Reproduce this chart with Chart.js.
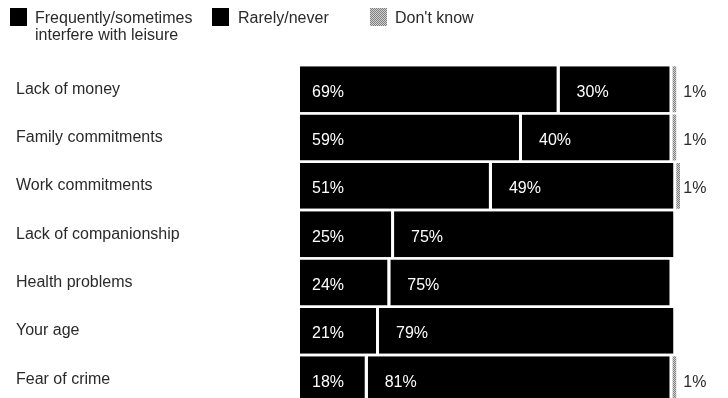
<!DOCTYPE html>
<html>
<head>
<meta charset="utf-8">
<script src="https://cdn.jsdelivr.net/npm/chart.js@4.4.1/dist/chart.umd.min.js"></script>
<style>
  html, body { margin: 0; padding: 0; background: #fff; overflow: hidden; }
  #wrap { position: relative; width: 728px; height: 398px; overflow: hidden; }
  #chart { position: absolute; left: 0; top: 0; }
  .lg { position: absolute; font-family: "Liberation Sans", Arial, sans-serif; font-size: 16px; color: #2a2a2a; line-height: 17px; }
  .sw { position: absolute; width: 17px; height: 18px; background: #000; }
</style>
</head>
<body>
<div id="wrap">
  <canvas id="chart" width="728" height="413"></canvas>
  <div class="sw" style="left:10px;top:8px"></div>
  <div class="lg" style="left:35px;top:9px">Frequently/sometimes<br>interfere with leisure</div>
  <div class="sw" style="left:212px;top:8px"></div>
  <div class="lg" style="left:238px;top:9px">Rarely/never</div>
  <canvas id="swDK" class="sw" width="17" height="18" style="left:370px;top:8px;background:none"></canvas>
  <div class="lg" style="left:395px;top:9px">Don't know</div>
</div>
<script>
const categories = ["Lack of money", "Family commitments", "Work commitments", "Lack of companionship", "Health problems", "Your age", "Fear of crime"];
const seriesNames = ["Frequently/sometimes interfere with leisure", "Rarely/never", "Don't know"];
const interfere = [69, 59, 51, 25, 24, 21, 18];
const rarely = [30, 40, 49, 75, 75, 79, 81];
const dontKnow = [1, 1, 1, 0, 0, 0, 1];

// Speckled grey fill for the "Don't know" share
function speckle(w, h) {
  const c = document.createElement('canvas');
  c.width = w; c.height = h;
  const g = c.getContext('2d');
  g.fillStyle = '#d0d0d0';
  g.fillRect(0, 0, w, h);
  g.fillStyle = '#808080';
  for (let y = 0; y < h; y++) for (let x = 0; x < w; x++) if ((x + y) % 2 === 0) g.fillRect(x, y, 1, 1);
  return c;
}
const dkTile = speckle(4, 4);
const swCtx = document.getElementById('swDK').getContext('2d');
swCtx.fillStyle = swCtx.createPattern(dkTile, 'repeat');
swCtx.fillRect(0, 0, 17, 18);
const dkPattern = document.getElementById('chart').getContext('2d').createPattern(dkTile, 'repeat');

const valueLabels = {
  id: 'valueLabels',
  afterDatasetsDraw(chart) {
    const ctx = chart.ctx;
    const xs = chart.scales.x;
    ctx.save();
    ctx.font = '16px "Liberation Sans", Arial, sans-serif';
    ctx.textBaseline = 'middle';
    ctx.textAlign = 'left';
    chart.data.datasets.forEach((ds, di) => {
      const meta = chart.getDatasetMeta(di);
      meta.data.forEach((bar, i) => {
        const v = ds.data[i];
        if (!v) return;
        if (di === 2) {
          // "Don't know" shares sit in a column just right of the 100% line
          ctx.fillStyle = '#2a2a2a';
          ctx.fillText(v + '%', xs.getPixelForValue(100) + 7, bar.y + 3);
        } else {
          ctx.fillStyle = '#fff';
          ctx.fillText(v + '%', bar.base + (di === 0 ? 12 : 17), bar.y + 3);
        }
      });
    });
    ctx.restore();
  }
};

const gap = { top: 0, bottom: 0, left: 0, right: 3 };

new Chart(document.getElementById('chart'), {
  type: 'bar',
  data: {
    labels: categories,
    datasets: [
      { label: seriesNames[0], data: interfere, backgroundColor: '#000', borderColor: '#fff', borderWidth: gap, borderSkipped: false },
      { label: seriesNames[1], data: rarely, backgroundColor: '#000', borderColor: '#fff', borderWidth: gap, borderSkipped: false },
      { label: seriesNames[2], data: dontKnow, backgroundColor: dkPattern, borderWidth: 0 }
    ]
  },
  options: {
    indexAxis: 'y',
    responsive: false,
    devicePixelRatio: 1,
    animation: false,
    layout: { padding: { left: 16, right: 48, top: 65, bottom: 0 } },
    datasets: { bar: { categoryPercentage: 1, barPercentage: 0.95 } },
    plugins: { legend: { display: false }, tooltip: { enabled: false } },
    scales: {
      x: { stacked: true, min: 0, max: 101, display: false },
      y: {
        stacked: true,
        grid: { display: false },
        border: { display: false },
        afterFit(scale) { scale.width = 284; },
        ticks: {
          crossAlign: 'far',
          padding: 0,
          color: '#2a2a2a',
          font: { family: '"Liberation Sans", Arial, sans-serif', size: 16 }
        }
      }
    }
  },
  plugins: [valueLabels]
});
</script>
</body>
</html>
